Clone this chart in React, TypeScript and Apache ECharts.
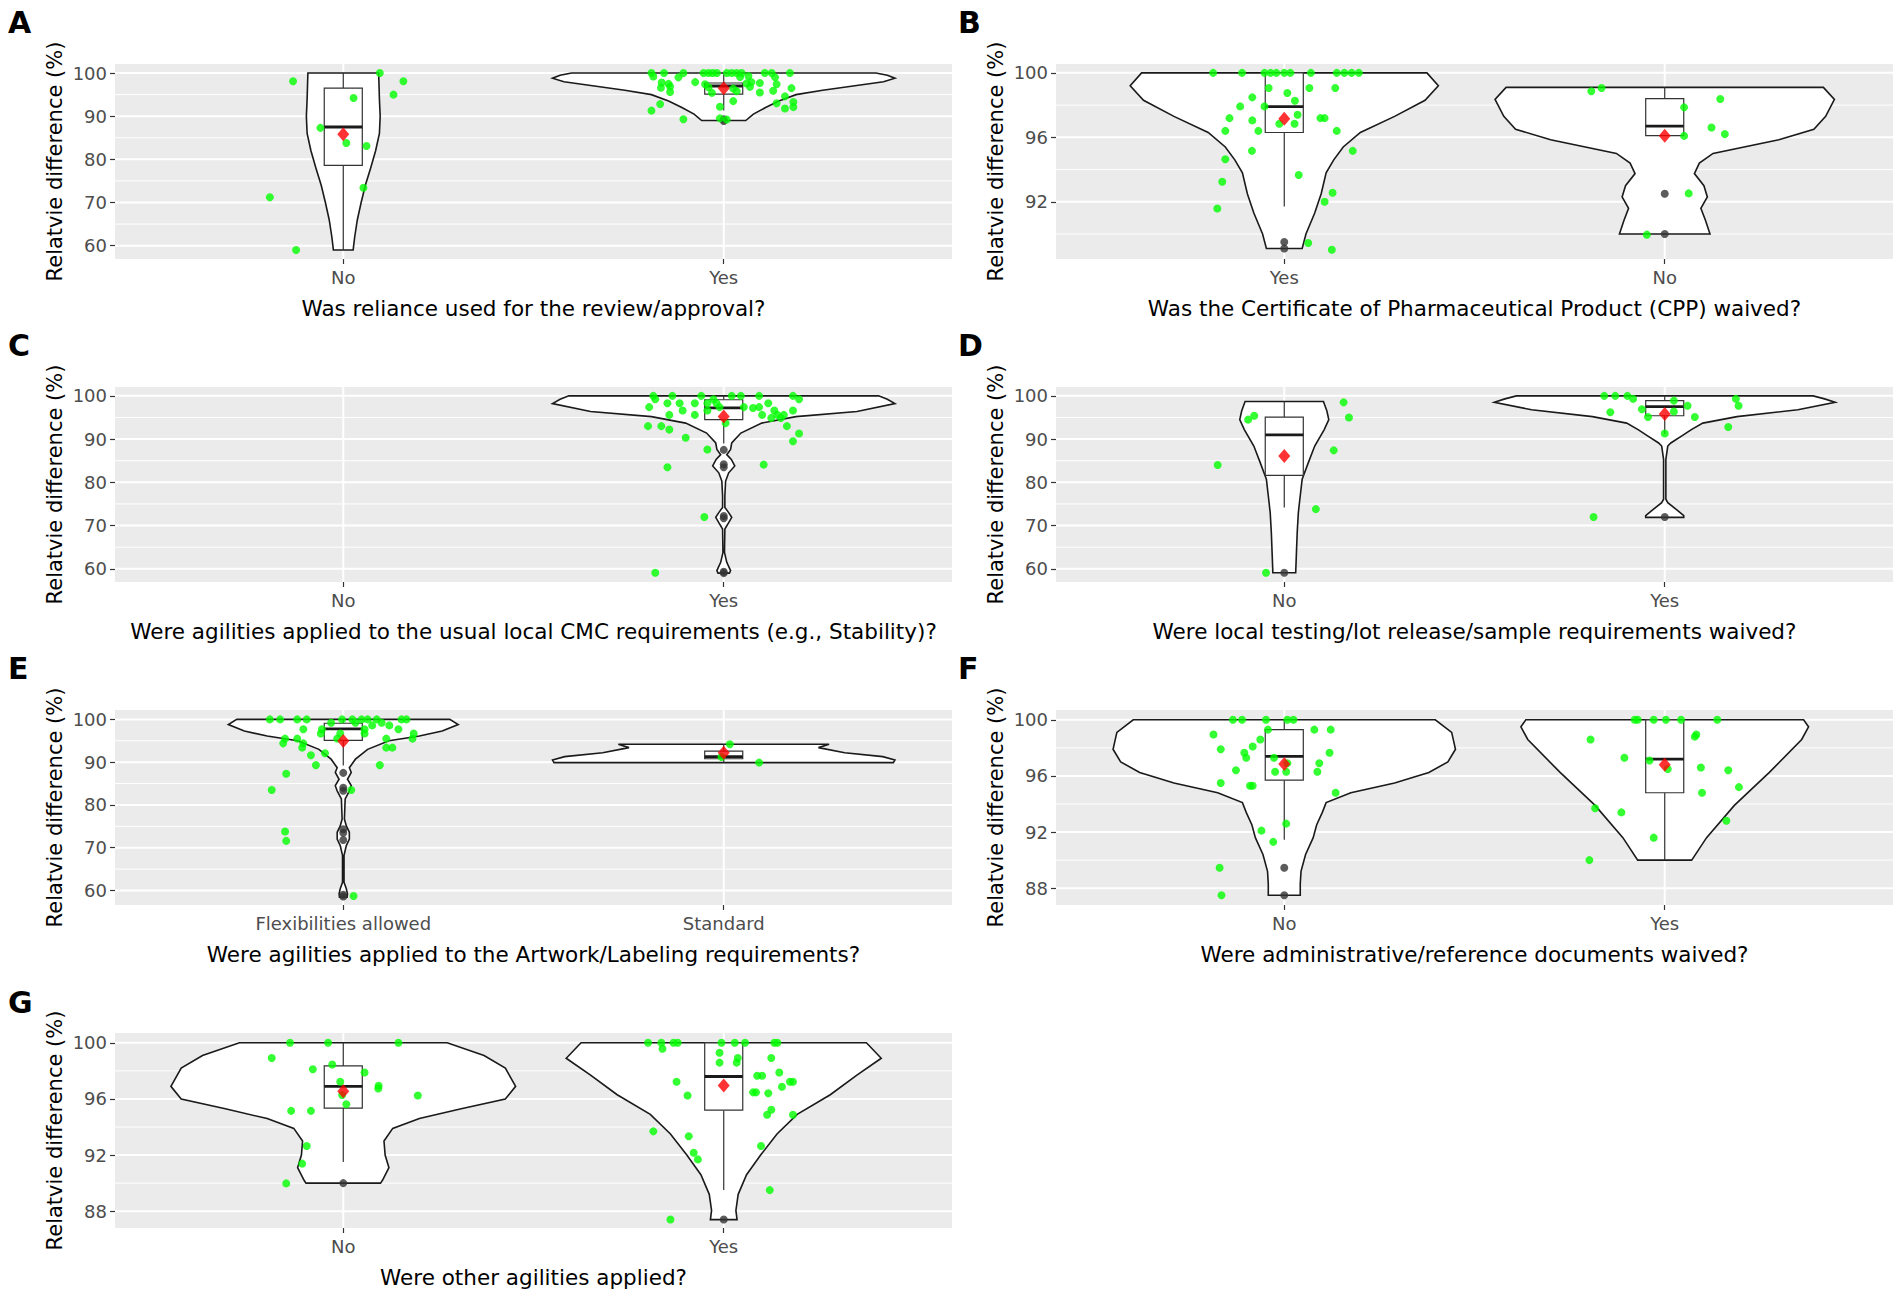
import React, { useEffect, useRef } from "react";
import * as echarts from "echarts";

// ---------------- DATA ----------------
const yTitle = "Relatvie difference (%)";
const panelLetters = ["A", "B", "C", "D", "E", "F", "G"];

// Panel A
const aCategories = ["No", "Yes"];
const aXTitle = "Was reliance used for the review/approval?";
const aYRange = [56.9, 102.1];
const aYMajor = [60, 70, 80, 90, 100];
const aYMinor = [65, 75, 85, 95];
const aViolinNo = [[59, 0.026], [62, 0.03], [66, 0.037], [70, 0.047], [74, 0.058], [78, 0.072], [82, 0.085], [86, 0.095], [90, 0.097], [94, 0.095], [97, 0.094], [100, 0.093]];
const aViolinYes = [[89, 0.058], [90.5, 0.078], [92, 0.11], [93.5, 0.145], [95, 0.19], [96, 0.26], [97, 0.34], [98, 0.42], [98.8, 0.45], [99.5, 0.43], [100, 0.4]];
const aBoxes = [[1, 59, 78.6, 87.5, 96.5, 100], [2, 91.3, 95.1, 97.0, 97.7, 100]];
const aMeans = [[1, 85.8], [2, 96.5]];
const aOutliers = [[2, 89.3], [2, 88.9]];
const aPoints = [
  [0.868, 98.1], [1.096, 100], [1.158, 98.1], [1.027, 94.2], [1.132, 95], [0.94, 87.3], [1.008, 83.8], [1.061, 83.1], [1.053, 73.4], [0.807, 71.2], [0.876, 59],
  [1.81, 100], [1.843, 100], [1.894, 100], [1.947, 100], [1.96, 100], [1.971, 100], [1.982, 100], [2.008, 100], [2.021, 100], [2.034, 100], [2.047, 100], [2.108, 100], [2.126, 100], [2.174, 100],
  [1.815, 99.2], [1.881, 99.0], [2.043, 99.1], [2.065, 99.3], [2.135, 99.0],
  [1.837, 97.8], [1.855, 97.5], [1.925, 97.9], [1.951, 97.4], [2.06, 97.6], [2.073, 97.9], [2.095, 97.7], [2.139, 97.4],
  [1.835, 96.6], [1.859, 96.9], [1.96, 96.7], [2.025, 96.4], [2.069, 96.8], [2.178, 96.5],
  [1.859, 95.6], [1.969, 95.4], [2.034, 95.8], [2.095, 95.5], [2.13, 95.9],
  [2.161, 94.6], [2.025, 93.5], [2.183, 93.3], [2.139, 93.0], [1.833, 92.8],
  [2.161, 91.8], [2.183, 92.1], [1.99, 92.2], [1.81, 91.3],
  [1.894, 89.3], [1.99, 89.5], [2.008, 89.2],
];

// Panel B
const bCategories = ["Yes", "No"];
const bXTitle = "Was the Certificate of Pharmaceutical Product (CPP) waived?";
const bYRange = [88.45, 100.55];
const bYMajor = [92, 96, 100];
const bYMinor = [90, 94, 98];
const bViolinYes = [[89.1, 0.047], [90, 0.057], [91.3, 0.08], [92.5, 0.097], [93.8, 0.11], [94.6, 0.13], [95.4, 0.155], [96.3, 0.2], [97.3, 0.29], [98.3, 0.37], [99.2, 0.405], [100, 0.375]];
const bViolinNo = [[90, 0.119], [90.85, 0.107], [91.6, 0.095], [92.3, 0.112], [93.0, 0.103], [93.75, 0.078], [94.4, 0.091], [95.0, 0.127], [95.85, 0.3], [96.5, 0.392], [97.3, 0.423], [98.35, 0.446], [99.1, 0.417]];
const bBoxes = [[1, 91.7, 96.3, 97.9, 100, 100], [2, 96.1, 96.1, 96.7, 98.4, 99.1]];
const bMeans = [[1, 97.15], [2, 96.1]];
const bOutliers = [[1, 89.5], [1, 89.1], [2, 92.5], [2, 90.0]];
const bPoints = [
  [0.813, 100], [0.889, 100], [0.948, 100], [0.964, 100], [0.979, 100], [1.0, 100], [1.016, 100], [1.07, 100], [1.138, 100], [1.158, 100], [1.177, 100], [1.196, 100],
  [0.959, 99.06], [1.066, 99.06], [1.134, 99.06],
  [1.008, 98.75], [0.916, 98.48], [1.028, 98.27], [0.884, 97.92], [0.948, 97.92], [1.035, 97.4], [0.856, 97.19], [1.095, 97.19], [1.106, 97.19], [0.916, 97.05],
  [0.987, 96.84], [1.027, 96.84], [0.845, 96.4], [0.932, 96.4], [1.138, 96.4], [0.915, 95.16], [1.18, 95.16], [0.845, 94.64], [1.038, 93.66], [0.837, 93.24],
  [1.127, 92.56], [1.106, 92.0], [0.824, 91.58], [1.063, 89.44], [1.125, 89.02],
  [1.807, 98.86], [1.834, 99.06], [2.051, 97.86], [2.146, 98.38], [2.123, 96.61], [2.158, 96.2], [2.051, 96.09], [2.063, 92.52], [1.953, 89.96],
];

// Panel C
const cCategories = ["No", "Yes"];
const cXTitle = "Were agilities applied to the usual local CMC requirements (e.g., Stability)?";
const cYRange = [56.95, 102.05];
const cYMajor = [60, 70, 80, 90, 100];
const cYMinor = [65, 75, 85, 95];
const cViolinYes = [[59, 0.015], [59.6, 0.018], [61.5, 0.008], [63.8, 0.002], [69.2, 0.003], [70.7, 0.013], [71.9, 0.021], [73, 0.013], [74.2, 0.003], [76.9, 0.003], [80.3, 0.005], [82.2, 0.013], [83.8, 0.029], [85.3, 0.02], [86.4, 0.008], [87.6, 0.018], [89.1, 0.021], [91.4, 0.045], [93.7, 0.1], [95.2, 0.19], [96.4, 0.35], [98.2, 0.45], [99.2, 0.43], [100, 0.407]];
const cBoxes = [[2, 89.0, 94.5, 97.2, 99.1, 100]];
const cMeans = [[2, 95.2]];
const cOutliers = [[2, 87.5], [2, 84.2], [2, 83.5], [2, 72.2], [2, 71.7], [2, 59.3], [2, 59.0]];
const cPoints = [
  [1.815, 100], [1.865, 100], [1.941, 100], [2.021, 100], [2.045, 100], [2.093, 100], [2.182, 100],
  [1.82, 99.2], [1.973, 99.2], [2.198, 99.2],
  [1.852, 98.3], [1.884, 98.3], [1.924, 98.3], [1.957, 98.3], [1.981, 98.3], [2.117, 98.3],
  [1.804, 97.4], [1.989, 97.4], [2.053, 97.4], [2.093, 97.4], [2.077, 97.2],
  [1.892, 96.6], [1.957, 96.6], [2.182, 96.6], [2.133, 96.6],
  [1.857, 95.6], [1.924, 95.6], [2.101, 95.6], [2.141, 95.6], [2.158, 95.6],
  [2.125, 94.9], [2.15, 94.9], [2.005, 93.7], [1.801, 93.0], [1.836, 93.0], [2.166, 93.0],
  [1.857, 92.2], [2.198, 91.3], [1.9, 90.3], [2.182, 89.5], [1.957, 87.6], [1.852, 83.5], [2.105, 84.1], [1.949, 72.0], [1.82, 59.1],
];

// Panel D
const dCategories = ["No", "Yes"];
const dXTitle = "Were local testing/lot release/sample requirements waived?";
const dYRange = [56.95, 102.05];
const dYMajor = [60, 70, 80, 90, 100];
const dYMinor = [65, 75, 85, 95];
const dViolinNo = [[59.1, 0.03], [63.8, 0.032], [68.4, 0.034], [73, 0.037], [76.9, 0.042], [80.7, 0.047], [84.5, 0.063], [88.4, 0.08], [92.2, 0.105], [94.5, 0.117], [96.5, 0.112], [98.7, 0.103]];
const dViolinYes = [[71.9, 0.05], [72.3, 0.05], [73.4, 0.035], [75.3, 0.008], [76.1, 0.003], [85.3, 0.003], [88.4, 0.008], [89.1, 0.016], [90.7, 0.044], [92.2, 0.07], [93.7, 0.1], [95.2, 0.19], [96.8, 0.35], [98.5, 0.448], [99.3, 0.42], [100, 0.39]];
const dBoxes = [[1, 74.2, 81.6, 91.0, 95.1, 98.7], [2, 91.2, 95.4, 97.5, 98.9, 100]];
const dMeans = [[1, 86.1], [2, 95.8]];
const dOutliers = [[1, 59.1], [2, 72.0]];
const dPoints = [
  [0.905, 94.5], [0.921, 95.4], [1.156, 98.5], [1.17, 95.0], [1.13, 87.4], [0.825, 84.0], [1.083, 73.8], [0.952, 59.1],
  [1.841, 100], [1.87, 100], [1.902, 100], [1.917, 99.3], [1.857, 96.2], [1.94, 96.9], [1.956, 95.1], [2.024, 98.9], [2.024, 96.4], [2.06, 97.7],
  [2.079, 95.1], [2.0, 91.3], [2.167, 92.8], [2.187, 99.3], [2.194, 97.7], [1.813, 72.0],
];

// Panel E
const eCategories = ["Flexibilities allowed", "Standard"];
const eXTitle = "Were agilities applied to the Artwork/Labeling requirements?";
const eYRange = [56.6, 102.2];
const eYMajor = [60, 70, 80, 90, 100];
const eYMinor = [65, 75, 85, 95];
const eViolinFlex = [[58.4, 0.01], [59.2, 0.011], [60.4, 0.008], [61.9, 0.002], [68.2, 0.002], [70.5, 0.008], [72, 0.016], [73.6, 0.016], [75.1, 0.008], [76.7, 0.003], [81.4, 0.005], [83.3, 0.016], [84.5, 0.021], [86, 0.011], [87.6, 0.021], [88.7, 0.016], [90.7, 0.032], [93, 0.064], [95, 0.12], [96.1, 0.2], [97.3, 0.26], [98.8, 0.302], [100, 0.28]];
const eViolinStd = [[89.9, 0.446], [90.5, 0.45], [91.3, 0.418], [92.2, 0.318], [93.4, 0.249], [94.2, 0.277]];
const eBoxes = [[1, 89.2, 95.1, 97.8, 99.1, 100], [2, 89.9, 90.8, 91.3, 92.6, 94.2]];
const eMeans = [[1, 94.95], [2, 92.2]];
const eOutliers = [[1, 87.5], [1, 84.0], [1, 83.3], [1, 74.3], [1, 73.5], [1, 71.8], [1, 59.0], [1, 58.6]];
const ePoints = [
  [0.807, 100], [0.834, 100], [0.879, 100], [0.904, 100], [0.997, 100], [1.024, 100], [1.048, 100], [1.064, 100], [1.088, 100], [1.153, 100], [1.166, 100],
  [0.968, 99.2], [1.032, 99.2], [1.101, 99.2], [1.076, 98.6], [1.121, 98.6],
  [0.895, 97.7], [0.944, 97.7], [1.056, 97.7], [1.145, 97.7],
  [0.941, 96.7], [0.992, 96.7], [1.056, 96.7], [1.185, 96.7],
  [0.847, 95.5], [0.879, 95.5], [0.984, 95.5], [1.182, 95.5], [1.113, 95.5],
  [0.842, 94.4], [0.895, 94.4], [0.892, 93.4], [1.113, 93.4], [1.129, 93.4],
  [0.952, 92.1], [0.915, 91.6], [0.928, 89.3], [1.096, 89.3], [0.85, 87.3], [0.812, 83.5], [1.021, 83.5], [0.847, 73.8], [0.85, 71.6], [1.027, 58.7],
  [2.016, 94.2], [1.994, 91.2], [2.093, 89.9],
];

// Panel F
const fCategories = ["No", "Yes"];
const fXTitle = "Were administrative/reference documents waived?";
const fYRange = [86.8, 100.7];
const fYMajor = [88, 92, 96, 100];
const fYMinor = [90, 94, 98];
const fViolinNo = [[87.5, 0.042], [88.3, 0.042], [89.2, 0.044], [90.4, 0.056], [91.6, 0.076], [92.5, 0.085], [93.4, 0.1], [94.1, 0.11], [94.8, 0.175], [95.5, 0.29], [96.25, 0.38], [97, 0.43], [97.9, 0.45], [99.1, 0.44], [100, 0.397]];
const fViolinYes = [[90, 0.071], [91.6, 0.11], [93.9, 0.183], [96.25, 0.275], [98.6, 0.36], [99.5, 0.378], [100, 0.365]];
const fBoxes = [[1, 91.45, 95.7, 97.4, 99.3, 100], [2, 90.0, 94.8, 97.2, 100, 100]];
const fMeans = [[1, 96.85], [2, 96.8]];
const fOutliers = [[1, 89.45], [1, 87.5]];
const fPoints = [
  [0.865, 100], [0.889, 100], [0.952, 100], [1.008, 100], [1.024, 100],
  [1.079, 99.3], [1.122, 99.3], [0.957, 99.3], [0.814, 98.95], [0.937, 98.6], [0.917, 98.1], [0.833, 97.9], [0.895, 97.65], [1.119, 97.65],
  [0.9, 97.3], [0.973, 97.3], [1.008, 96.9], [1.092, 96.9], [0.873, 96.4], [0.976, 96.3], [1.005, 96.3], [1.087, 96.3], [0.833, 95.5],
  [0.91, 95.3], [0.917, 95.3], [1.135, 94.8], [1.005, 92.6], [0.94, 92.1], [0.971, 91.3], [0.83, 89.45], [0.835, 87.5],
  [1.921, 100], [1.929, 100], [1.971, 100], [2.003, 100], [2.043, 100], [2.138, 100], [2.083, 98.95], [2.079, 98.8], [1.805, 98.6],
  [1.894, 97.3], [1.96, 97.1], [2.095, 96.6], [2.008, 96.5], [2.167, 96.4], [2.195, 95.2], [2.098, 94.8], [1.817, 93.7], [1.886, 93.4],
  [2.162, 92.8], [1.971, 91.6], [1.802, 90.0],
];

// Panel G
const gCategories = ["No", "Yes"];
const gXTitle = "Were other agilities applied?";
const gYRange = [86.8, 100.7];
const gYMajor = [88, 92, 96, 100];
const gYMinor = [90, 94, 98];
const gViolinNo = [[90, 0.098], [90.2, 0.103], [91.1, 0.12], [92, 0.11], [93, 0.107], [93.9, 0.13], [94.6, 0.2], [95.3, 0.31], [96, 0.426], [96.9, 0.453], [98.2, 0.426], [99.1, 0.37], [100, 0.273]];
const gViolinYes = [[87.4, 0.035], [88.05, 0.032], [89.2, 0.038], [90.6, 0.06], [92, 0.097], [93.5, 0.14], [94.9, 0.193], [96.3, 0.28], [97.7, 0.35], [98.9, 0.414], [100, 0.375]];
const gBoxes = [[1, 91.5, 95.35, 96.9, 98.35, 100], [2, 89.5, 95.2, 97.6, 100, 100]];
const gMeans = [[1, 96.55], [2, 96.95]];
const gOutliers = [[1, 90.0], [2, 87.4]];
const gPoints = [
  [0.86, 100], [0.96, 100], [1.145, 100], [0.812, 98.92], [0.971, 98.45], [0.92, 98.12], [1.056, 97.88], [0.992, 97.22], [1.093, 96.94],
  [1.092, 96.75], [0.997, 96.28], [1.196, 96.24], [1.008, 95.62], [0.863, 95.15], [0.915, 95.15], [0.904, 92.64], [0.892, 91.39], [0.85, 89.98],
  [1.801, 100], [1.836, 100], [1.868, 100], [1.879, 100], [1.994, 100], [2.029, 100], [2.056, 100], [2.133, 100], [2.141, 100],
  [1.839, 99.58], [1.989, 99.29], [2.037, 98.92], [2.125, 98.92], [1.989, 98.59], [2.034, 98.59], [2.146, 97.88], [2.088, 97.65], [2.101, 97.65],
  [1.876, 97.22], [2.174, 97.22], [2.182, 97.22], [2.153, 96.87], [2.085, 96.47], [2.077, 96.47], [2.117, 96.4], [1.905, 96.24], [2.125, 95.23],
  [2.182, 94.87], [2.114, 94.87], [1.815, 93.69], [1.908, 93.34], [2.098, 92.64], [1.921, 92.16], [1.932, 91.69], [2.121, 89.5], [1.86, 87.41],
];

// ---------------- ASSEMBLY ----------------
const panels = [
  { cats: aCategories, xTitle: aXTitle, yRange: aYRange, yMajor: aYMajor, yMinor: aYMinor, violins: [{ x: 1, prof: aViolinNo }, { x: 2, prof: aViolinYes }], boxes: aBoxes, means: aMeans, outliers: aOutliers, points: aPoints },
  { cats: bCategories, xTitle: bXTitle, yRange: bYRange, yMajor: bYMajor, yMinor: bYMinor, violins: [{ x: 1, prof: bViolinYes }, { x: 2, prof: bViolinNo }], boxes: bBoxes, means: bMeans, outliers: bOutliers, points: bPoints },
  { cats: cCategories, xTitle: cXTitle, yRange: cYRange, yMajor: cYMajor, yMinor: cYMinor, violins: [{ x: 2, prof: cViolinYes }], boxes: cBoxes, means: cMeans, outliers: cOutliers, points: cPoints },
  { cats: dCategories, xTitle: dXTitle, yRange: dYRange, yMajor: dYMajor, yMinor: dYMinor, violins: [{ x: 1, prof: dViolinNo }, { x: 2, prof: dViolinYes }], boxes: dBoxes, means: dMeans, outliers: dOutliers, points: dPoints },
  { cats: eCategories, xTitle: eXTitle, yRange: eYRange, yMajor: eYMajor, yMinor: eYMinor, violins: [{ x: 1, prof: eViolinFlex }, { x: 2, prof: eViolinStd }], boxes: eBoxes, means: eMeans, outliers: eOutliers, points: ePoints },
  { cats: fCategories, xTitle: fXTitle, yRange: fYRange, yMajor: fYMajor, yMinor: fYMinor, violins: [{ x: 1, prof: fViolinNo }, { x: 2, prof: fViolinYes }], boxes: fBoxes, means: fMeans, outliers: fOutliers, points: fPoints },
  { cats: gCategories, xTitle: gXTitle, yRange: gYRange, yMajor: gYMajor, yMinor: gYMinor, violins: [{ x: 1, prof: gViolinNo }, { x: 2, prof: gViolinYes }], boxes: gBoxes, means: gMeans, outliers: gOutliers, points: gPoints },
];

// layout (pixels)
const gridPos = [
  { left: 115, top: 64 }, { left: 1056, top: 64 },
  { left: 115, top: 387 }, { left: 1056, top: 387 },
  { left: 115, top: 710 }, { left: 1056, top: 710 },
  { left: 115, top: 1033 },
];
const letterPos = [
  { x: 8, y: 22 }, { x: 958, y: 22 },
  { x: 8, y: 345 }, { x: 958, y: 345 },
  { x: 8, y: 668 }, { x: 958, y: 668 },
  { x: 8, y: 1002 },
];
const GW = 837;
const GH = 195;
const FONT = "DejaVu Sans";

function buildOption() {
  const grid: any[] = [];
  const xAxis: any[] = [];
  const yAxis: any[] = [];
  const series: any[] = [];

  panels.forEach((p, i) => {
    grid.push({ left: gridPos[i].left, top: gridPos[i].top, width: GW, height: GH, show: true, backgroundColor: "#EBEBEB", borderWidth: 0 });
    xAxis.push({
      gridIndex: i, type: "value", min: 0.4, max: 2.6,
      axisLine: { show: false, onZero: false },
      splitLine: { show: false },
      axisTick: { show: true, customValues: [1, 2], length: 5, lineStyle: { color: "#333333", width: 1.2 } },
      axisLabel: { customValues: [1, 2], formatter: (v: number) => p.cats[Math.round(v) - 1] ?? "", color: "#4D4D4D", fontSize: 18, margin: 9, fontFamily: FONT },
      name: p.xTitle, nameLocation: "middle", nameGap: 38,
      nameTextStyle: { fontSize: 21.5, color: "#000000", fontFamily: FONT },
    });
    yAxis.push({
      gridIndex: i, type: "value", min: p.yRange[0], max: p.yRange[1],
      axisLine: { show: false, onZero: false },
      splitLine: { show: false },
      axisTick: { show: true, customValues: p.yMajor, length: 5, lineStyle: { color: "#333333", width: 1.2 } },
      axisLabel: { customValues: p.yMajor, color: "#4D4D4D", fontSize: 18, margin: 8, fontFamily: FONT },
      name: yTitle, nameLocation: "middle", nameGap: 50,
      nameTextStyle: { fontSize: 21, color: "#000000", fontFamily: FONT },
    });

    const midY = (p.yRange[0] + p.yRange[1]) / 2;
    const gridData = [
      ...p.yMajor.map((v) => [1, v, 0, 2]),
      ...p.yMinor.map((v) => [1, v, 0, 1]),
      [1, midY, 1, 2],
      [2, midY, 1, 2],
    ];
    series.push({
      type: "custom", xAxisIndex: i, yAxisIndex: i, z: 1, silent: true,
      data: gridData,
      renderItem: (params: any, api: any) => {
        const cs = params.coordSys;
        const kind = api.value(2);
        const w = api.value(3);
        if (kind === 0) {
          const y = api.coord([api.value(0), api.value(1)])[1];
          return { type: "line", shape: { x1: cs.x, y1: y, x2: cs.x + cs.width, y2: y }, style: { stroke: "#FFFFFF", lineWidth: w } };
        }
        const x = api.coord([api.value(0), api.value(1)])[0];
        return { type: "line", shape: { x1: x, y1: cs.y, x2: x, y2: cs.y + cs.height }, style: { stroke: "#FFFFFF", lineWidth: w } };
      },
    });

    // violins
    series.push({
      type: "custom", xAxisIndex: i, yAxisIndex: i, z: 2, silent: true,
      data: p.violins.map((v, k) => [v.x, v.prof[0][0], k]),
      renderItem: (_params: any, api: any) => {
        const vi = p.violins[api.value(2)];
        const cx = vi.x;
        const pts: number[][] = [];
        vi.prof.forEach(([y, hw]) => pts.push(api.coord([cx + hw, y])));
        for (let k = vi.prof.length - 1; k >= 0; k--) {
          const [y, hw] = vi.prof[k];
          pts.push(api.coord([cx - hw, y]));
        }
        return { type: "polygon", shape: { points: pts }, style: { fill: "#FFFFFF", stroke: "#1A1A1A", lineWidth: 1.6 } };
      },
    });

    // boxes
    series.push({
      type: "custom", xAxisIndex: i, yAxisIndex: i, z: 3, silent: true,
      data: p.boxes,
      renderItem: (_params: any, api: any) => {
        const x = api.value(0);
        const lo = api.value(1), q1 = api.value(2), med = api.value(3), q3 = api.value(4), hi = api.value(5);
        const bw = 0.05;
        const pLo = api.coord([x, lo]);
        const pQ1 = api.coord([x, q1]);
        const pQ3 = api.coord([x, q3]);
        const pHi = api.coord([x, hi]);
        const xl = api.coord([x - bw, med])[0];
        const xr = api.coord([x + bw, med])[0];
        const ym = api.coord([x, med])[1];
        const st = { stroke: "#333333", lineWidth: 1.2 };
        return {
          type: "group",
          children: [
            { type: "line", shape: { x1: pLo[0], y1: pLo[1], x2: pQ1[0], y2: pQ1[1] }, style: st },
            { type: "line", shape: { x1: pQ3[0], y1: pQ3[1], x2: pHi[0], y2: pHi[1] }, style: st },
            { type: "rect", shape: { x: xl, y: pQ3[1], width: xr - xl, height: pQ1[1] - pQ3[1] }, style: { fill: "#FFFFFF", stroke: "#333333", lineWidth: 1.2 } },
            { type: "line", shape: { x1: xl, y1: ym, x2: xr, y2: ym }, style: { stroke: "#1A1A1A", lineWidth: 2.8 } },
          ],
        };
      },
    });

    series.push({
      type: "scatter", xAxisIndex: i, yAxisIndex: i, z: 4, silent: true,
      data: p.outliers, symbol: "circle", symbolSize: 8,
      itemStyle: { color: "#333333" },
    });
    series.push({
      type: "scatter", xAxisIndex: i, yAxisIndex: i, z: 5, silent: true,
      data: p.points, symbol: "circle", symbolSize: 8,
      itemStyle: { color: "#00FF00" },
    });
    series.push({
      type: "scatter", xAxisIndex: i, yAxisIndex: i, z: 6, silent: true,
      data: p.means, symbol: "diamond", symbolSize: [12, 14],
      itemStyle: { color: "#FF0000" },
    });
  });

  const graphic = panelLetters.map((l, i) => ({
    type: "text", left: letterPos[i].x, top: letterPos[i].y - 15,
    style: { text: l, fontSize: 30, fontWeight: "bold", fontFamily: FONT, fill: "#000000" },
  }));

  return { animation: false, backgroundColor: "#FFFFFF", grid, xAxis, yAxis, series, graphic };
}

export default function App() {
  const ref = useRef<HTMLDivElement>(null);
  useEffect(() => {
    document.body.style.margin = "0";
    if (!ref.current) return;
    const chart = echarts.init(ref.current, undefined, { renderer: "svg" });
    chart.setOption(buildOption() as any);
    return () => chart.dispose();
  }, []);
  return <div ref={ref} style={{ width: 1902, height: 1300 }} />;
}
